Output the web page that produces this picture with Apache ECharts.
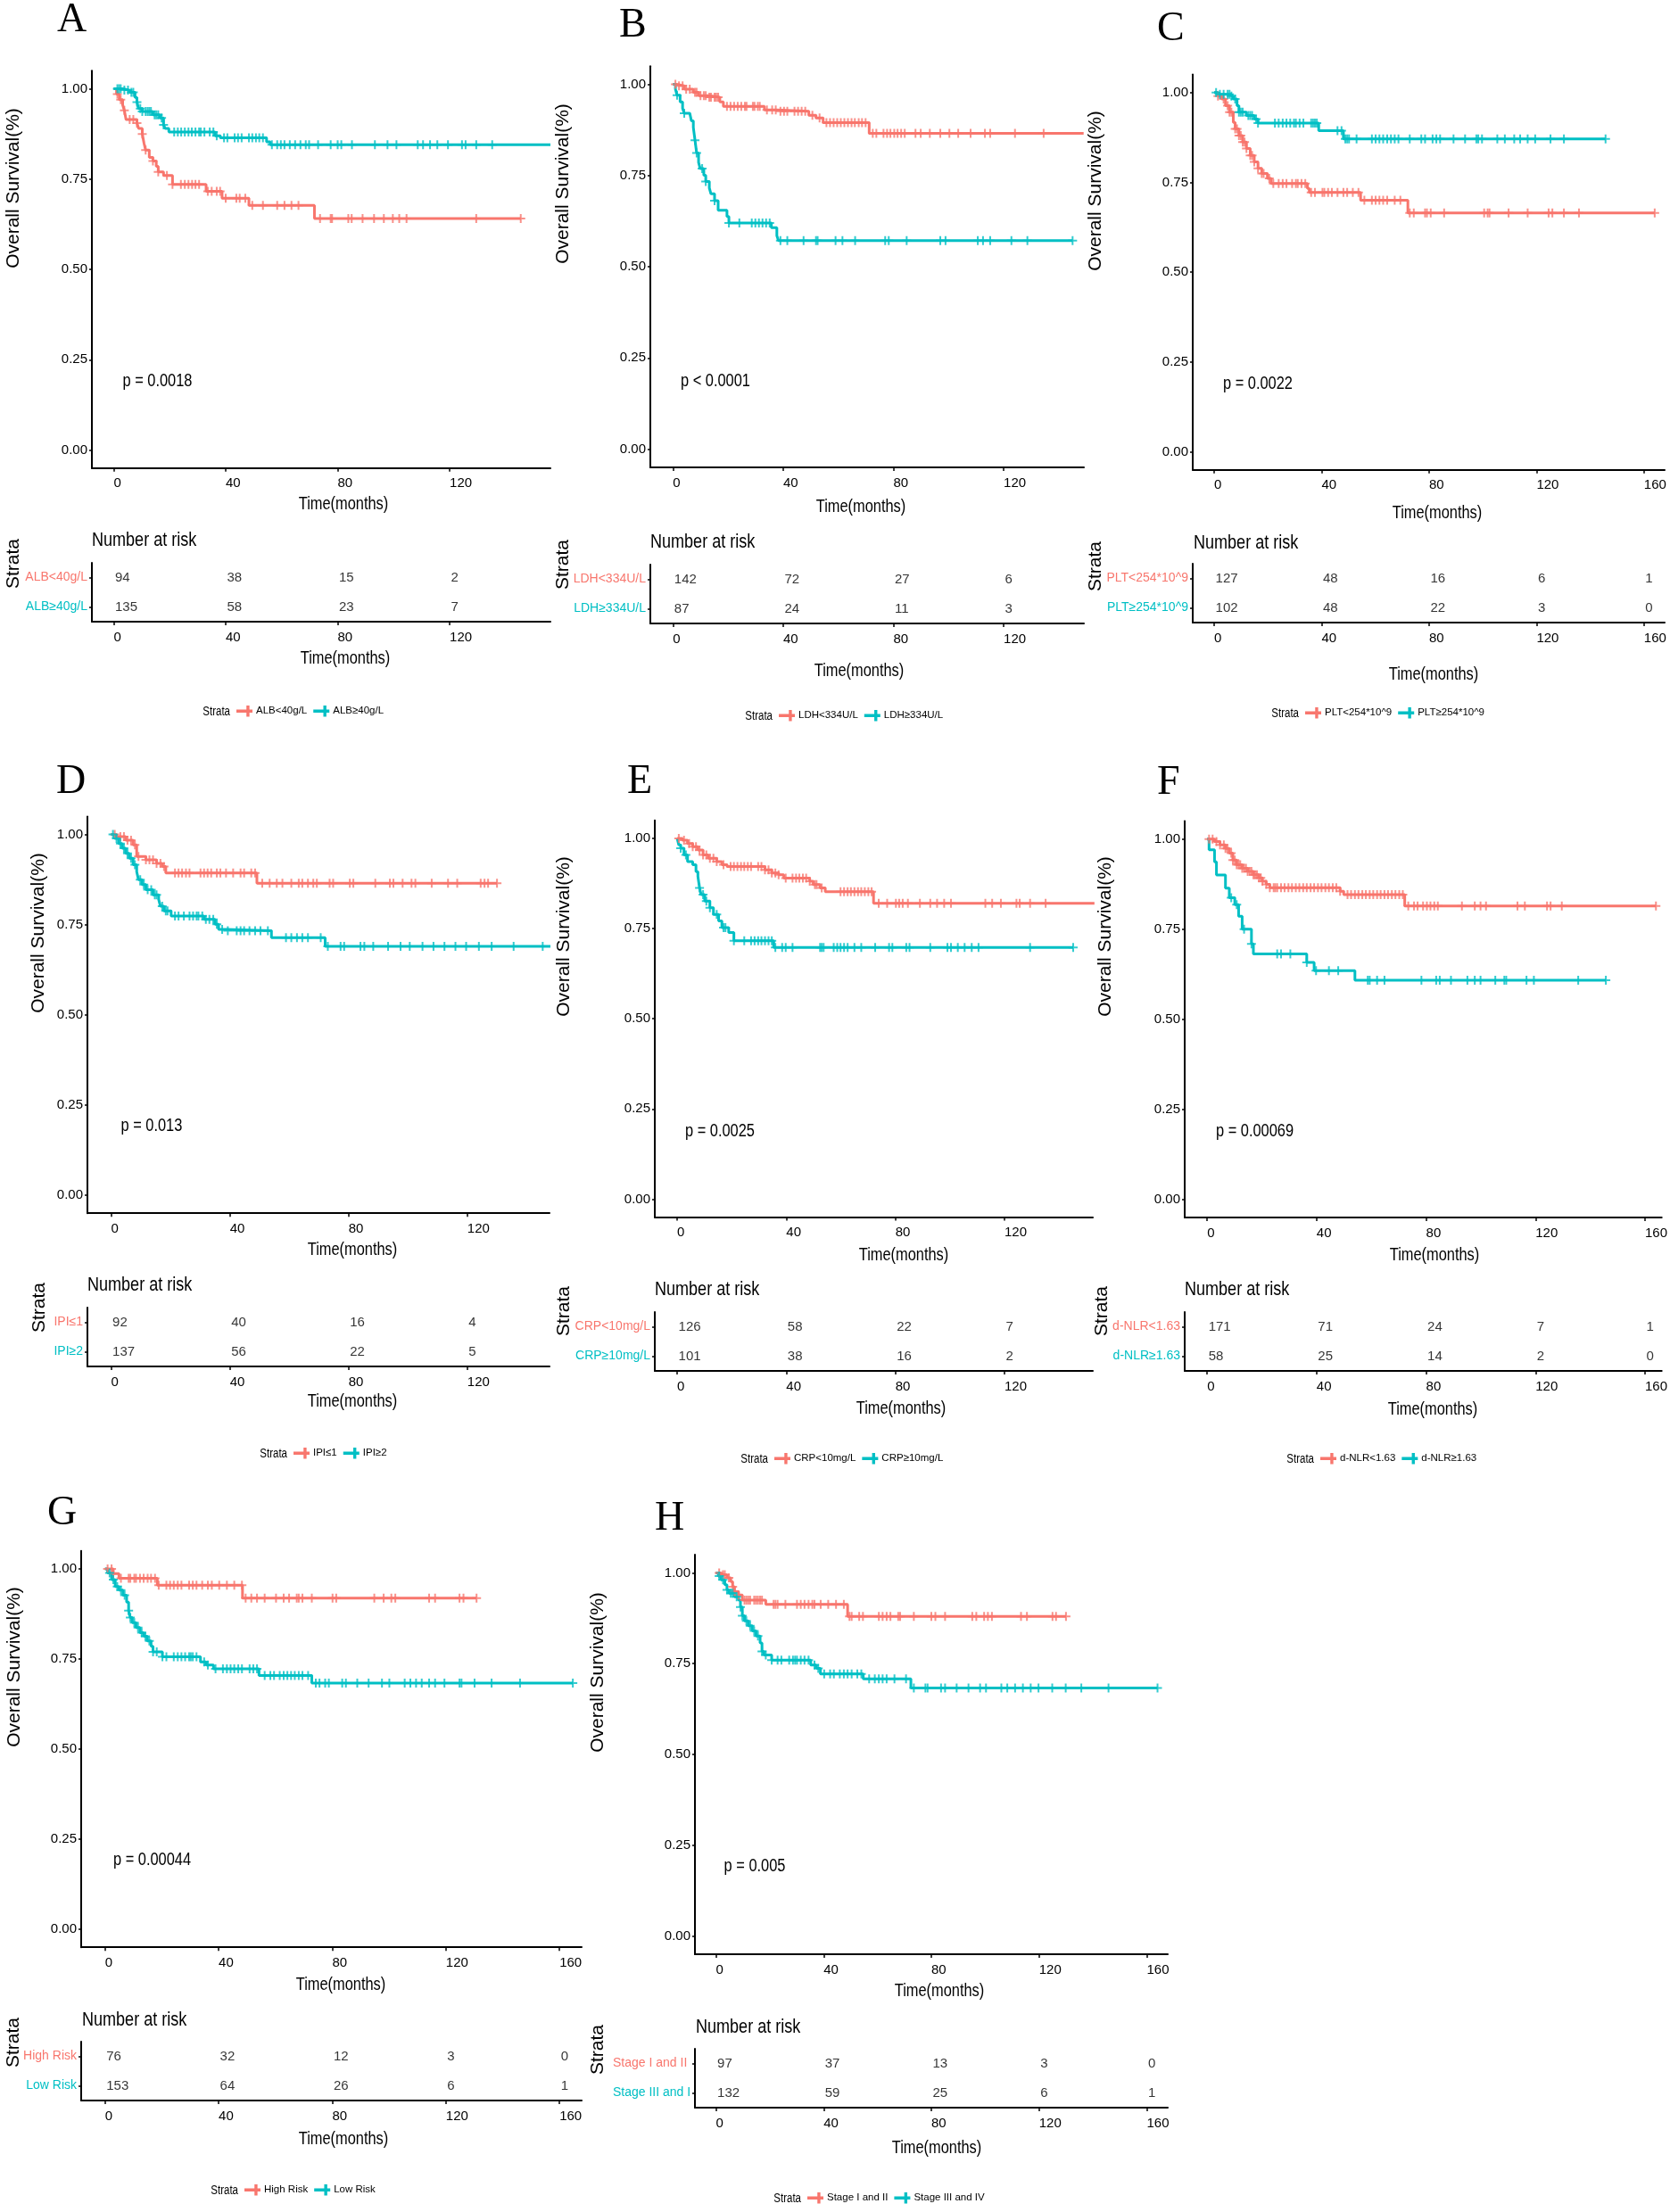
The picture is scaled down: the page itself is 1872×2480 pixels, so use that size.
<!DOCTYPE html>
<html><head><meta charset="utf-8">
<script src="https://cdn.jsdelivr.net/npm/echarts@6/dist/echarts.min.js"></script>
<style>html,body{margin:0;padding:0;background:#fff}#c{width:1872px;height:2480px}</style>
</head><body><div id="c"></div>
<script>
// ---------------- DATA ----------------
const RED = '#F8766D', TEAL = '#00BFC4';

// Panel A
const A_strata = ['ALB<40g/L', 'ALB≥40g/L'];
const A_pval = 'p = 0.0018';
const A_ticks = [0, 40, 80, 120];
const A_red = [[0,1],[1,0.985],[2,0.97],[3.2,0.955],[3.8,0.94],[4.4,0.915],[8.3,0.905],[8.9,0.89],[10.2,0.875],[10.8,0.85],[11.4,0.83],[12.7,0.81],[14,0.80],[15.2,0.785],[15.9,0.77],[17.8,0.76],[21,0.735],[33,0.716],[38.7,0.697],[48.3,0.677],[71.7,0.641],[145.4,0.641]];
const A_red_c = [1.3,2.5,3.8,5.7,7,8.3,10.2,11.4,14,15.9,19,21,24,25.4,26.7,28,29.2,30.5,33.6,35,36.8,38,40,43.8,45,47,49.5,53.3,58.4,61,63.5,66,73.7,77.5,78,83.8,85,88.9,93,96.5,99.7,102,104.6,129.5,145.4];
const A_teal = [[0,1],[3.2,0.996],[5.7,0.99],[7.6,0.976],[8.3,0.963],[8.9,0.945],[10.2,0.937],[14,0.928],[16.5,0.919],[17.8,0.90],[18.4,0.89],[19.7,0.88],[36.2,0.87],[38.1,0.864],[54.6,0.853],[55.9,0.845],[156,0.845]];
const A_teal_c = [1.3,1.9,2.5,3.8,5.1,6.3,7,8.3,9.5,10.2,11.4,12.1,12.7,13.3,14.6,15.2,15.9,17.1,17.8,21.6,22.9,24.1,25.4,26.7,27.9,29.2,30.5,31.1,32.4,34.3,35.6,36.8,39.4,40.6,43.2,44.4,45.7,48.3,49.5,50.8,52,53.3,56.5,58.4,59.7,61,62.9,64.8,66.7,68.6,69.8,73,77.5,80,81.3,85.1,93.3,97.8,101,108.6,110.5,113,115.6,119.4,124.4,125.7,129.5,135.2];
const A_risk_red = [94, 38, 15, 2];
const A_risk_teal = [135, 58, 23, 7];

// Panel B
const B_strata = ['LDH<334U/L', 'LDH≥334U/L'];
const B_pval = 'p < 0.0001';
const B_ticks = [0, 40, 80, 120];
const B_red = [[0,1],[1.5,0.996],[4.1,0.987],[7.4,0.978],[9.3,0.969],[13.2,0.965],[17,0.952],[18.3,0.94],[33.2,0.93],[37.7,0.926],[49.3,0.915],[51.9,0.908],[54.5,0.895],[71.2,0.866],[149,0.866]];
const B_red_c = [0.9,2.2,3.5,4.8,6.1,8,8.6,10,11.2,11.9,13.2,13.8,15.1,15.7,16.4,19.6,20.9,22.2,23.5,24.8,26.1,26.7,29,29.6,30.8,31.5,34.1,36,37.3,39,40.3,41.5,44.1,45.4,46.7,48,50.6,53.2,55.7,57,58.3,59.6,60.9,62.2,63.5,64.8,66,67.4,68.6,69.9,72.5,73.8,76.4,77.7,78.9,80.3,81.5,82.8,84.1,88,89.9,93.2,97,100.3,103.5,108,113.2,115.1,124.1,134.5];
const B_teal = [[0,1],[0.9,0.987],[1.5,0.97],[2.6,0.952],[3.5,0.934],[4.1,0.921],[6.1,0.917],[6.7,0.90],[7.4,0.882],[8,0.847],[8.6,0.812],[9.3,0.786],[9.9,0.769],[11.2,0.751],[11.9,0.734],[13.2,0.716],[13.8,0.70],[15.1,0.681],[16.4,0.655],[19.6,0.638],[20.3,0.62],[35.7,0.607],[37.7,0.585],[38.3,0.572],[145,0.572]];
const B_teal_c = [1.5,4.1,8,8.6,10.6,11.9,15.1,20.3,24.1,28.6,29.9,31.2,32.5,33.8,35.1,39,41.5,47.4,51.9,52.5,59,61.5,66.1,77,78.3,84.8,97,98.9,110.6,112.5,115.1,122.8,128.6,145];
const B_risk_red = [142, 72, 27, 6];
const B_risk_teal = [87, 24, 11, 3];

// Panel C
const C_strata = ['PLT<254*10^9', 'PLT≥254*10^9'];
const C_pval = 'p = 0.0022';
const C_ticks = [0, 40, 80, 120, 160];
const C_red = [[0,1],[1.4,0.99],[2.8,0.982],[4.2,0.963],[5.7,0.945],[7.1,0.917],[7.8,0.899],[9.2,0.88],[10.6,0.862],[12,0.844],[13.4,0.825],[14.9,0.807],[16.3,0.789],[17.7,0.775],[19.8,0.761],[21.2,0.747],[34.7,0.733],[35.4,0.722],[54.5,0.70],[72.1,0.665],[164,0.665]];
const C_red_c = [1.4,3.5,5,5.7,6.4,7.8,8.5,9.2,9.9,10.6,11.3,12,13.4,14.1,14.9,16.3,17.7,18.4,20.5,22,24,25.5,26.9,29,30.4,31.1,32.5,33.9,36.1,37.5,40.3,41,42.4,43.8,45.9,48.1,49.5,51.6,53.7,55.9,58.7,60.1,61.5,62.9,64.4,67.2,69.3,72.8,74.3,78.5,79.2,80.6,85.6,100.5,101.8,102.5,109.6,116.7,124.5,125.9,130.2,135.8,164];
const C_teal = [[0,1],[1.4,0.995],[6.4,0.99],[7.1,0.982],[8.5,0.963],[9.2,0.945],[12,0.936],[14.9,0.926],[16.3,0.915],[38.9,0.894],[48.1,0.871],[145.7,0.871]];
const C_teal_c = [0.7,2.1,3.5,5,5.7,6.4,7.8,9.2,9.9,10.6,12.7,13.4,14.1,15.6,16.3,22.6,24,25.5,26.9,28.3,29.7,30.4,31.8,33.2,36.1,36.8,37.5,38.2,45.9,47.4,48.8,49.5,50.2,53,58.7,60.1,61.5,62.9,64.4,65.8,67.2,68.6,72.8,77.1,78.5,81.3,82.7,84.1,89.1,93.4,97.6,98.3,99.7,105.4,108.2,111.7,113.9,116.7,119.5,125.2,130.2,145.7];
const C_risk_red = [127, 48, 16, 6, 1];
const C_risk_teal = [102, 48, 22, 3, 0];

// Panel D
const D_strata = ['IPI≤1', 'IPI≥2'];
const D_pval = 'p = 0.013';
const D_ticks = [0, 40, 80, 120];
const D_red = [[0,1],[1.8,0.994],[4.9,0.984],[7.4,0.971],[8.6,0.939],[11.7,0.93],[15.3,0.92],[17.2,0.911],[18.4,0.893],[49.1,0.865],[130,0.865]];
const D_red_c = [1.2,3.1,4.3,5.5,6.7,8,9.2,11.7,12.9,14.1,15.3,16.6,17.8,21.5,22.7,23.9,25.2,26.4,30.1,31.3,32.5,33.7,35.6,36.8,38.7,41.1,43.6,44.8,47.2,48.5,50.9,53.4,55.8,57.7,60.7,63.2,64.4,66.3,68.1,69.3,73.6,74.8,80.4,81.6,89,93.9,95.1,98.2,101.2,102.5,108,113.5,116.6,124.5,125.8,127,130];
const D_teal = [[0,1],[1.2,0.989],[2.5,0.975],[3.7,0.962],[4.9,0.948],[6.1,0.934],[7.4,0.916],[8.6,0.897],[9.2,0.875],[10.4,0.861],[11.7,0.847],[14.1,0.833],[16,0.82],[16.6,0.801],[17.8,0.788],[20.2,0.774],[31.3,0.765],[35,0.751],[36.2,0.737],[38.7,0.733],[54,0.714],[72.1,0.69],[148,0.69]];
const D_teal_c = [0.6,1.8,3.1,4.3,5.5,6.7,8,9.8,11,12.3,13.5,14.7,15.3,17.2,18.4,19,21.5,22.7,24.5,26.4,27.6,28.8,29.4,30.7,31.9,33.1,34.4,35.6,37.4,39.3,42.3,43.6,44.8,46.6,48.5,50.3,52.8,58.9,60.7,62.6,64.4,66.3,70.6,73,77.3,78.5,84,85.3,88.3,93.3,97.5,100.6,104.9,108.6,112.3,116,119.6,123.9,128.2,135.6,145.4];
const D_risk_red = [92, 40, 16, 4];
const D_risk_teal = [137, 56, 22, 5];

// Panel E
const E_strata = ['CRP<10mg/L', 'CRP≥10mg/L'];
const E_pval = 'p = 0.0025';
const E_ticks = [0, 40, 80, 120];
const E_red = [[0,1],[1.9,0.995],[3.8,0.986],[5.7,0.977],[7.6,0.968],[9.5,0.954],[11.4,0.945],[14.5,0.936],[16.4,0.927],[18.3,0.922],[32.2,0.913],[34.7,0.904],[37.2,0.899],[39.1,0.89],[48.6,0.881],[49.9,0.872],[52.4,0.863],[54.3,0.852],[72,0.82],[153,0.82]];
const E_red_c = [0.6,2.5,4.4,5.7,6.9,8.2,9.5,10.7,12,13.3,14.5,17,19.6,20.8,22.1,23.4,24.6,25.9,27.1,29.7,30.9,32.2,33.5,34.7,36,37.2,39.8,42.3,43.6,44.8,46.1,47.3,48.6,50.5,51.1,53,59.9,61.2,62.5,63.7,65,66.3,67.5,68.8,70.1,71.3,73.9,77,80.2,81.4,82.7,84.6,89,92.8,95.3,97.9,100.4,113,115.5,118.7,124.4,125.6,129.4,135.1];
const E_teal = [[0,1],[0.6,0.982],[1.3,0.973],[2.5,0.954],[3.8,0.936],[5.7,0.927],[6.9,0.908],[7.6,0.895],[8.2,0.863],[8.8,0.844],[10.1,0.826],[12,0.808],[13.3,0.789],[15.2,0.771],[16.4,0.753],[18.9,0.739],[20.8,0.716],[35.4,0.698],[145.2,0.698]];
const E_teal_c = [1.3,3.2,8.2,9.5,10.7,12,14.5,17,17.7,20.8,24.6,27.1,28.4,29.7,30.9,32.2,33.5,34.7,36,38.5,39.8,42.3,52.4,53,53.7,57.4,58.7,59.9,61.2,62.5,65,67.5,72.6,77.7,78.9,84,85.2,92.8,99.1,100.4,102.9,105.4,108,110.5,129.4,145.2];
const E_risk_red = [126, 58, 22, 7];
const E_risk_teal = [101, 38, 16, 2];

// Panel F
const F_strata = ['d-NLR<1.63', 'd-NLR≥1.63'];
const F_pval = 'p = 0.00069';
const F_ticks = [0, 40, 80, 120, 160];
const F_red = [[0,1],[2.7,0.993],[4.7,0.984],[6.7,0.974],[8.1,0.961],[9.4,0.942],[10.8,0.929],[12.8,0.919],[14.8,0.91],[16.9,0.901],[18.9,0.892],[20.2,0.883],[21.6,0.874],[22.9,0.865],[48.6,0.855],[49.9,0.846],[72.2,0.814],[164,0.814]];
const F_red_c = [0.7,2,3.4,4.7,6.1,6.7,7.4,8.8,9.4,10.1,10.8,11.5,12.1,12.8,13.5,14.2,14.8,15.5,16.2,16.9,17.5,18.2,18.9,19.6,20.2,21.6,22.9,24.3,24.9,25.6,27,28.3,29.7,31,32.4,33.7,35.1,36.4,37.8,39.1,40.5,41.8,43.2,44.5,45.9,47.2,48.6,51.3,52.6,54,55.3,56.7,58,59.4,60.7,62.1,63.4,64.8,66.1,67.5,68.8,70.2,71.5,73.5,75.6,76.9,78.9,80.3,81.6,83,84.3,93.1,97.8,99.9,101.9,113.4,116.1,124.2,125.5,129.6,164];
const F_teal = [[0,1],[0.7,0.97],[2.7,0.937],[3.4,0.90],[6.7,0.864],[8.1,0.837],[10.1,0.818],[11.5,0.786],[12.8,0.75],[16.2,0.709],[16.9,0.681],[36.4,0.658],[39.1,0.635],[54,0.608],[145.7,0.608]];
const F_teal_c = [8.8,10.8,13.5,16.2,25.6,27,30.4,36.4,39.8,44.5,47.9,58.7,59.4,62.1,64.8,78.3,83.7,85,89.1,95.1,97.8,99.9,105.3,108.6,109.3,116.7,119.4,135.6,145.7];
const F_risk_red = [171, 71, 24, 7, 1];
const F_risk_teal = [58, 25, 14, 2, 0];

// Panel G
const G_strata = ['High Risk', 'Low Risk'];
const G_pval = 'p = 0.00044';
const G_ticks = [0, 40, 80, 120, 160];
const G_red = [[0,1],[2.9,0.987],[4.9,0.974],[18.4,0.955],[48.4,0.919],[130.8,0.919]];
const G_red_c = [0.9,2.3,2.9,5.6,8.3,8.9,10.3,10.9,12.3,13.6,15,16.2,17.6,18.9,21.6,22.9,24.2,25.6,26.9,29.6,30.9,32.2,34.2,36.2,37.6,40.2,42.9,45.5,48.2,49.5,51.5,53.5,56.2,60.2,62.9,64.8,67.5,68.2,69.5,72.8,80.1,81.4,94.8,98.1,100.8,102.2,114.1,116.2,124.8,126.2,130.8];
const G_teal = [[0,1],[0.9,0.989],[2.3,0.97],[3.6,0.951],[4.9,0.941],[6.3,0.927],[7.6,0.908],[8.3,0.884],[8.9,0.865],[9.6,0.851],[10.9,0.837],[12.3,0.823],[13.6,0.813],[14.9,0.80],[16.2,0.785],[16.9,0.77],[20.2,0.756],[33.6,0.742],[35.6,0.733],[38.2,0.723],[54.2,0.704],[72.8,0.683],[164.7,0.683]];
const G_teal_c = [1.6,2.9,4.3,5.6,6.9,8.3,8.9,10.3,11.6,12.9,14.2,15.6,16.9,18.2,20.2,21.6,24.2,25.6,26.9,28.2,29.6,30.2,30.9,32.2,34.9,36.2,38.9,41.5,42.9,44.2,45.5,46.9,48.2,50.9,52.2,53.5,56.2,58.2,59.5,61.5,62.9,64.2,65.5,66.8,68.2,69.5,71.5,74.2,75.5,77.5,78.8,83.5,84.8,88.8,92.8,97.5,100.1,105.5,107.5,109.5,111.5,114.1,116.2,119.5,124.8,125.5,130.1,136.1,146.1,164.7];
const G_risk_red = [76, 32, 12, 3, 0];
const G_risk_teal = [153, 64, 26, 6, 1];

// Panel H
const H_strata = ['Stage I and II', 'Stage III and IV'];
const H_pval = 'p = 0.005';
const H_ticks = [0, 40, 80, 120, 160];
const H_red = [[0,1],[1.9,0.995],[4.1,0.986],[5.5,0.976],[6.2,0.962],[6.9,0.948],[8.4,0.939],[9.8,0.925],[18.5,0.913],[48.9,0.88],[130,0.88]];
const H_red_c = [1.2,2.6,3.3,4.8,6.2,6.9,8.4,10.6,11.3,12,12.7,14.2,14.9,15.6,16.4,17.1,21.4,22.1,22.9,25.8,30.1,31.5,32.9,34.4,35.8,36.6,38.9,41.7,44.6,47.5,49.6,50.4,53.2,54.6,60.5,61.9,63.4,64.8,67.7,68.4,73.5,80,81.5,85.1,95.2,96.7,99.6,101,102.5,113.3,115.5,125,126.3,130];
const H_teal = [[0,1],[0.9,0.991],[1.9,0.981],[3.3,0.967],[4.1,0.953],[4.8,0.944],[6.9,0.934],[8.4,0.925],[9.1,0.906],[9.8,0.882],[10.6,0.868],[12,0.854],[13.5,0.84],[14.9,0.826],[16.4,0.807],[17.1,0.784],[17.8,0.774],[20.7,0.76],[35.2,0.746],[37.3,0.737],[38.8,0.722],[54.7,0.708],[72.4,0.683],[164,0.683]];
const H_teal_c = [1.2,2.6,4.1,5.5,6.2,7.7,9.1,9.8,11.3,12.7,14.2,15.6,17.1,18.5,20.7,22.9,24.3,27.2,28.6,29.4,30.1,31.5,32.9,34.4,36.6,38,40.2,42.4,43.8,46,47.5,48.9,50.4,52.5,54,56.9,59,60.5,61.9,63.4,66.3,70.6,73.5,77.8,78.6,83.6,85.1,89.4,93.8,98.1,100.3,106,108.2,111.1,114,116.9,119.8,124.9,129.9,135.7,145.8,164];
const H_risk_red = [97, 37, 13, 3, 0];
const H_risk_teal = [132, 59, 25, 6, 1];

const Y_TICKS = [0, 0.25, 0.5, 0.75, 1];

// ---------------- LAYOUT (pixels) ----------------
const LAYOUT = {
  A:{letter:[64,23], left:103, right:617, y1:99.5, y0:504.5, xmin:-7.8, xmax:156, ytitle:[15,211], pval:[137.5,427], time1:[385,565], risk:697, nar:[103,606], strata:[15,632], time2:[387,738], legend:[265,798]},
  B:{letter:[694,29], left:729, right:1215, y1:94.6, y0:503.6, xmin:-8.2, xmax:149.1, ytitle:[631,206], pval:[763,427], time1:[965,568], risk:699, nar:[729,608], strata:[631,633], time2:[963,752], legend:[873,803]},
  C:{letter:[1297,33], left:1337, right:1866, y1:103.7, y0:506.7, xmin:-8, xmax:167.7, ytitle:[1228,214], pval:[1371,430], time1:[1611,575], risk:698, nar:[1338,609], strata:[1228,635], time2:[1607,756], legend:[1463,800]},
  D:{letter:[63,877], left:98, right:616, y1:935.6, y0:1340, xmin:-8, xmax:147.7, ytitle:[43.5,1046], pval:[135.5,1262], time1:[395,1401], risk:1532, nar:[98,1441], strata:[44,1466], time2:[395,1571], legend:[329,1630]},
  E:{letter:[703,877], left:734, right:1225, y1:940, y0:1344.4, xmin:-8.2, xmax:152.4, ytitle:[632,1050], pval:[768,1268], time1:[1013,1407], risk:1537, nar:[734,1446], strata:[632,1470], time2:[1010,1579], legend:[868,1636]},
  F:{letter:[1297,878], left:1328, right:1866, y1:940.7, y0:1344.8, xmin:-8.2, xmax:166.1, ytitle:[1239,1050], pval:[1363,1268], time1:[1608,1407], risk:1537, nar:[1328,1446], strata:[1235,1470], time2:[1606,1580], legend:[1480,1636]},
  G:{letter:[53,1697], left:91, right:652, y1:1759, y0:2163, xmin:-8.4, xmax:167.8, ytitle:[16,1869], pval:[127,2085], time1:[382,2225], risk:2355, nar:[92,2265], strata:[15,2290], time2:[385,2398], legend:[274,2456]},
  H:{letter:[734,1703], left:779, right:1309, y1:1763.4, y0:2170.7, xmin:-7.8, xmax:167.8, ytitle:[670,1875], pval:[811.6,2092], time1:[1053,2232], risk:2363, nar:[780,2273], strata:[670,2298], time2:[1050,2408], legend:[905,2465], leftLabels:687}
};

const PANELS = [
  {id:'A', strata:A_strata, pval:A_pval, ticks:A_ticks, red:A_red, redC:A_red_c, teal:A_teal, tealC:A_teal_c, rr:A_risk_red, rt:A_risk_teal},
  {id:'B', strata:B_strata, pval:B_pval, ticks:B_ticks, red:B_red, redC:B_red_c, teal:B_teal, tealC:B_teal_c, rr:B_risk_red, rt:B_risk_teal},
  {id:'C', strata:C_strata, pval:C_pval, ticks:C_ticks, red:C_red, redC:C_red_c, teal:C_teal, tealC:C_teal_c, rr:C_risk_red, rt:C_risk_teal},
  {id:'D', strata:D_strata, pval:D_pval, ticks:D_ticks, red:D_red, redC:D_red_c, teal:D_teal, tealC:D_teal_c, rr:D_risk_red, rt:D_risk_teal},
  {id:'E', strata:E_strata, pval:E_pval, ticks:E_ticks, red:E_red, redC:E_red_c, teal:E_teal, tealC:E_teal_c, rr:E_risk_red, rt:E_risk_teal},
  {id:'F', strata:F_strata, pval:F_pval, ticks:F_ticks, red:F_red, redC:F_red_c, teal:F_teal, tealC:F_teal_c, rr:F_risk_red, rt:F_risk_teal},
  {id:'G', strata:G_strata, pval:G_pval, ticks:G_ticks, red:G_red, redC:G_red_c, teal:G_teal, tealC:G_teal_c, rr:G_risk_red, rt:G_risk_teal},
  {id:'H', strata:H_strata, pval:H_pval, ticks:H_ticks, red:H_red, redC:H_red_c, teal:H_teal, tealC:H_teal_c, rr:H_risk_red, rt:H_risk_teal}
];

// ---------------- BUILD ----------------
const SANS = '"Liberation Sans",Arial,sans-serif';
const SERIF = '"Liberation Serif","Times New Roman",serif';
const NARROW_SCALE = 0.82;   // Arial Narrow ≈ Arial squeezed horizontally
const PLUS = 'path://M4,0H6V4H10V6H6V10H4V6H0V4H4Z';
const LEG_ICON = 'path://M0,5H16V8H0Z M10,1H13V12H10Z';
const RISK_H = 66;

function survAt(ev, t) { let s = 1; for (const [et, es] of ev) { if (et <= t) s = es; else break; } return s; }

const option = { animation:false, backgroundColor:'#ffffff', grid:[], xAxis:[], yAxis:[], series:[], legend:[], graphic:[] };
const AX_LINE = {show:true, onZero:false, lineStyle:{color:'#000', width:2}};
const TICK_STYLE = {color:'#000', width:1.5};

function txt(x, y, text, font, align, rot, sx) {
  return {type:'text', x:x, y:y, rotation: rot || 0, scaleX: sx || 1, silent:true,
    style:{text:text, font:font, fill:'#000', textAlign:align||'left', textVerticalAlign:'middle', align:align||'left', verticalAlign:'middle'}};
}

PANELS.forEach((p, i) => {
  const L = LAYOUT[p.id];
  const gm = 2*i, gr = 2*i + 1;
  const h = L.y0 - L.y1;
  option.grid.push({left:L.left, top:L.y1 - 0.05*h, width:L.right - L.left, height:1.1*h});
  option.grid.push({left:L.left, top:L.risk - RISK_H, width:L.right - L.left, height:RISK_H});

  const xa = g => ({type:'value', gridIndex:g, min:L.xmin, max:L.xmax, axisLine:AX_LINE,
    axisTick:{show:true, customValues:p.ticks, length:4, lineStyle:TICK_STYLE},
    axisLabel:{customValues:p.ticks, align:'left', margin:10, fontSize:15, fontFamily:SANS, color:'#000'},
    splitLine:{show:false}});
  option.xAxis.push(xa(gm), xa(gr));

  option.yAxis.push({type:'value', gridIndex:gm, min:-0.05, max:1.05, axisLine:AX_LINE,
    axisTick:{show:true, customValues:Y_TICKS, length:3, lineStyle:TICK_STYLE},
    axisLabel:{customValues:Y_TICKS, formatter:v => v.toFixed(2), margin:5, fontSize:15, fontFamily:SANS, color:'#000'},
    splitLine:{show:false}});
  const ylab = {margin:5, fontSize:14, fontFamily:SANS, color:(v, idx) => (idx === 0 ? RED : TEAL)};
  if (L.leftLabels) Object.assign(ylab, {align:'left', margin:L.left - L.leftLabels, width:L.left - L.leftLabels, overflow:'truncate', ellipsis:''});
  option.yAxis.push({type:'category', gridIndex:gr, data:p.strata, inverse:true, axisLine:AX_LINE,
    axisTick:{show:true, alignWithLabel:true, length:3, lineStyle:TICK_STYLE},
    axisLabel:ylab, splitLine:{show:false}});

  [[p.red, p.redC, RED, 0], [p.teal, p.tealC, TEAL, 1]].forEach(([ev, cens, col, k]) => {
    option.series.push({type:'line', name:p.strata[k], xAxisIndex:gm, yAxisIndex:gm, data:ev, step:'end',
      showSymbol:false, symbol:'none', lineStyle:{width:3, color:col}, itemStyle:{color:col}, silent:true, z:2});
    option.series.push({type:'scatter', name:p.strata[k] + ' (censored)', xAxisIndex:gm, yAxisIndex:gm,
      data:cens.map(t => [t, survAt(ev, t)]), symbol:PLUS, symbolSize:10, itemStyle:{color:col}, silent:true, z:3});
    const risk = k === 0 ? p.rr : p.rt;
    option.series.push({type:'scatter', xAxisIndex:gr, yAxisIndex:gr, silent:true,
      data:p.ticks.map((t, j) => [t, p.strata[k], risk[j]]), symbolSize:1, itemStyle:{color:'rgba(0,0,0,0)'},
      label:{show:true, position:'right', distance:1, formatter:q => String(q.value[2]), fontSize:15, fontFamily:SANS, color:'#000'}});
  });

  option.legend.push({left:L.legend[0], top:L.legend[1] - 7, orient:'horizontal', selectedMode:false,
    data:[p.strata[0], p.strata[1]], icon:LEG_ICON, itemWidth:18, itemHeight:13, itemGap:7, padding:0,
    textStyle:{fontSize:11.5, fontFamily:SANS, color:'#000', padding:[0,0,0,-1]}});

  option.graphic.push(
    txt(L.letter[0], L.letter[1], p.id, '46px ' + SERIF, 'left'),
    txt(L.ytitle[0], L.ytitle[1], 'Overall Survival(%)', '21px ' + SANS, 'center', Math.PI/2),
    txt(L.pval[0], L.pval[1], p.pval, '20px ' + SANS, 'left', 0, NARROW_SCALE),
    txt(L.time1[0], L.time1[1], 'Time(months)', '20px ' + SANS, 'center', 0, NARROW_SCALE),
    txt(L.nar[0], L.nar[1], 'Number at risk', '22px ' + SANS, 'left', 0, NARROW_SCALE),
    txt(L.strata[0], L.strata[1], 'Strata', '21px ' + SANS, 'center', Math.PI/2),
    txt(L.time2[0], L.time2[1], 'Time(months)', '20px ' + SANS, 'center', 0, NARROW_SCALE),
    txt(L.legend[0] - 7, L.legend[1], 'Strata', '14px ' + SANS, 'right', 0, NARROW_SCALE)
  );
});

const chart = echarts.init(document.getElementById('c'), null, {renderer:'canvas', width:1872, height:2480});
chart.setOption(option);
</script></body></html>
